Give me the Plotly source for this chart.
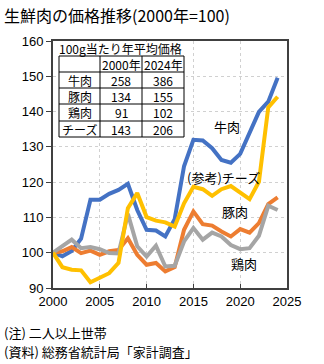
import plotly.graph_objects as go

years = list(range(2000, 2025))
beef = [100, 99, 100.5, 104, 115, 115, 116.7, 117.8, 119.5, 112.1, 106.5, 106.3, 104.6, 109.5,
        124.5, 132, 131.8, 129.6, 126.3, 125.5, 128, 133.8, 139.9, 142.8, 149.6]
pork = [100, 100.4, 101.6, 99.9, 100.6, 99.4, 100.4, 100.8, 104.1, 99.4, 96.6, 97.1, 94.7, 95.9,
        106.5, 111.7, 108.1, 107.7, 106, 104.6, 106.7, 105.7, 108.4, 113.8, 115.7]
chicken = [100, 102, 103.7, 101.3, 101.6, 101, 99.9, 99.8, 111, 101.8, 98.9, 102, 96.1, 96.3,
           103.2, 107, 103.7, 105.7, 104.6, 102.2, 101, 101.3, 104.8, 113.3, 112.1]
cheese = [100, 95.9, 95.2, 95, 91.6, 92.8, 94.2, 97.1, 112.6, 116.9, 110.1, 109.1, 108.6, 107.4,
          114, 118.7, 118, 116.1, 118, 118.9, 116.9, 115.2, 120.1, 141.2, 144.2]

series_names = ["牛肉", "豚肉", "鶏肉", "チーズ"]
series_colors = ["#4472C4", "#ED7D31", "#A5A5A5", "#FFC000"]
series_values = [beef, pork, chicken, cheese]

table_title = "100g当たり年平均価格"
table_header = ["", "2000年", "2024年"]
table_rows = [["牛肉", "258", "386"], ["豚肉", "134", "155"], ["鶏肉", "91", "102"], ["チーズ", "143", "206"]]

title = "生鮮肉の価格推移(2000年=100)"
notes = ["(注) 二人以上世帯", "(資料) 総務省統計局「家計調査」"]

W, H = 324, 364
L, R, T, B = 53, 287, 41, 288

def px(x):
    return (x - L) / (R - L)

def py(y):
    return (B - y) / (B - T)

JP = "Noto Sans CJK JP"
NUM = "Liberation Sans"

fig = go.Figure()
for name, col, vals in zip(series_names, series_colors, series_values):
    fig.add_trace(go.Scatter(x=years, y=vals, mode="lines", name=name,
                             line=dict(color=col, width=4), showlegend=False))

shapes = []
annotations = []

# table background
tx = [59, 100, 142, 184]
ty = [56, 72, 88, 104, 121, 137]
shapes.append(dict(type="rect", xref="paper", yref="paper", x0=px(56), x1=px(186),
                   y0=py(139), y1=py(42), fillcolor="white", line=dict(width=0), layer="above"))
for x in tx:
    shapes.append(dict(type="line", xref="paper", yref="paper", x0=px(x), x1=px(x),
                       y0=py(ty[0]), y1=py(ty[-1]), line=dict(color="black", width=1), layer="above"))
for y in ty:
    shapes.append(dict(type="line", xref="paper", yref="paper", x0=px(tx[0]), x1=px(tx[-1]),
                       y0=py(y), y1=py(y), line=dict(color="black", width=1), layer="above"))
annotations.append(dict(text=table_title, xref="paper", yref="paper", x=px(120), y=py(48),
                        xanchor="center", yanchor="middle",
                        showarrow=False, font=dict(family=JP, size=12, color="black")))
rows = [table_header] + table_rows
for i, row in enumerate(rows):
    yc = (ty[i] + ty[i + 1]) / 2
    for j, cell in enumerate(row):
        if not cell:
            continue
        xc = (tx[j] + tx[j + 1]) / 2
        annotations.append(dict(text=cell, xref="paper", yref="paper", x=px(xc), y=py(yc),
                                xanchor="center", yanchor="middle",
                                showarrow=False, font=dict(family=JP, size=12, color="black")))

# line labels
labels = [("牛肉", 227, 127), ("(参考)チーズ", 223, 177), ("豚肉", 235, 211), ("鶏肉", 244, 263)]
for text, x, y in labels:
    annotations.append(dict(text=text, xref="paper", yref="paper", x=px(x), y=py(y),
                            xanchor="center", yanchor="middle",
                            showarrow=False, font=dict(family=JP, size=13, color="black")))

# title and notes
annotations.append(dict(text=title, xref="paper", yref="paper", x=px(2), y=py(15),
                        xanchor="left", yanchor="middle", showarrow=False,
                        font=dict(family=JP, size=16, color="black")))
for k, n in enumerate(notes):
    annotations.append(dict(text=n, xref="paper", yref="paper", x=px(2), y=py(332 + 19 * k),
                            xanchor="left", yanchor="middle", showarrow=False,
                            font=dict(family=JP, size=13, color="black")))

fig.update_layout(
    width=W, height=H,
    margin=dict(l=L, r=W - R, t=T, b=H - B, pad=0),
    paper_bgcolor="white", plot_bgcolor="white",
    shapes=shapes, annotations=annotations,
    xaxis=dict(range=[2000, 2025], dtick=5, tick0=2000, showgrid=True,
               gridcolor="#D0D0D0", griddash="dot", gridwidth=1,
               showline=True, linecolor="#404040", linewidth=2, mirror=True,
               ticks="inside", ticklen=4, tickcolor="#404040",
               tickfont=dict(family=NUM, size=13, color="black"), zeroline=False),
    yaxis=dict(range=[90, 160], dtick=10, showgrid=True,
               gridcolor="#D0D0D0", griddash="dot", gridwidth=1,
               showline=True, linecolor="#404040", linewidth=2, mirror=True,
               ticks="outside", ticklen=5, tickcolor="#404040",
               tickfont=dict(family=NUM, size=13, color="black"), zeroline=False),
)

fig.write_html("out.html")
